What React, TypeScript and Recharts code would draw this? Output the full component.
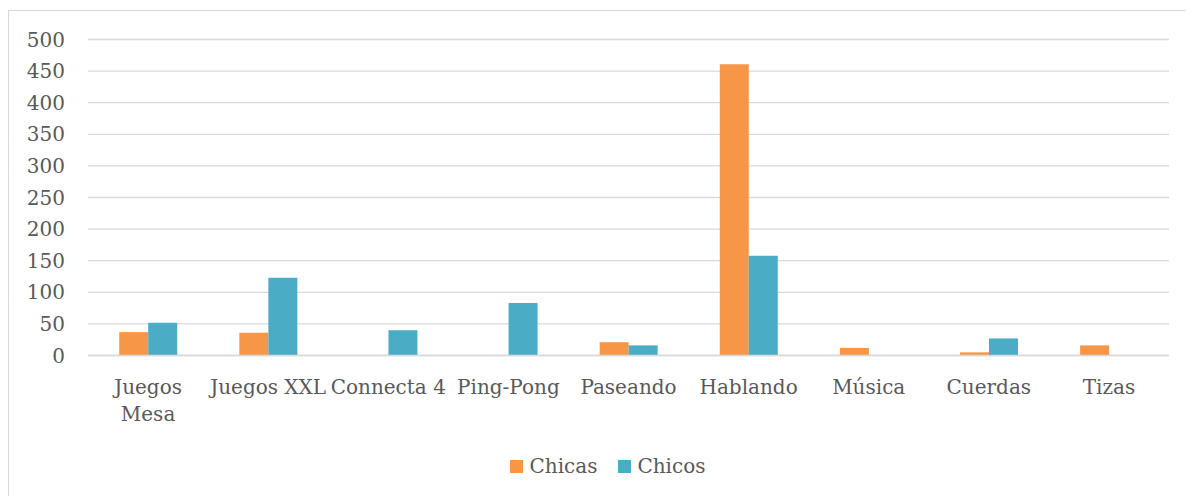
import React from 'react';
import { BarChart, Bar, XAxis, YAxis, CartesianGrid, Legend } from 'recharts';

const categories = ['Juegos\nMesa', 'Juegos XXL', 'Connecta 4', 'Ping-Pong', 'Paseando', 'Hablando', 'Música', 'Cuerdas', 'Tizas'];
const chicas = [37, 36, 0, 0, 21, 461, 12, 5, 16];
const chicos = [52, 123, 40, 83, 16, 158, 0, 27, 0];
const yTicks = [0, 50, 100, 150, 200, 250, 300, 350, 400, 450, 500];
const seriesNames = ['Chicas', 'Chicos'];
const seriesColors = ['#F79646', '#4BACC6'];

const data = categories.map((c, i) => ({ name: c, Chicas: chicas[i], Chicos: chicos[i] }));

const FONT = 'DejaVu Serif';
const FS = 20;
const TEXT_COLOR = '#595959';

const XTick = (props: any) => {
  const { x, y, payload } = props;
  const lines = String(payload.value).split('\n');
  return (
    <text x={x} y={y} textAnchor="middle" fontFamily={FONT} fontSize={FS} fill={TEXT_COLOR}>
      {lines.map((l, i) => (
        <tspan key={i} x={x} dy={i === 0 ? '0.75em' : 27}>
          {l}
        </tspan>
      ))}
    </text>
  );
};

const LegendContent = () => (
  <div style={{ display: 'flex', justifyContent: 'center', alignItems: 'center', fontFamily: FONT, fontSize: FS, color: TEXT_COLOR, height: 24 }}>
    {seriesNames.map((n, i) => (
      <div key={n} style={{ display: 'flex', alignItems: 'center', marginRight: i === 0 ? 21 : 0 }}>
        <span style={{ display: 'inline-block', width: 13, height: 13, background: seriesColors[i], marginRight: 6 }} />
        <span>{n}</span>
      </div>
    ))}
  </div>
);

export default function App() {
  return (
    <div style={{ marginTop: 2, border: '1px solid #d9d9d9', width: 1200, height: 500, position: 'relative', overflow: 'hidden', boxSizing: 'border-box' }}>
      <BarChart
        width={1180}
        height={480}
        data={data}
        margin={{ top: 28.5, right: 20, left: 0, bottom: 35.5 }}
        barCategoryGap="26%"
        barGap={0}
      >
        <CartesianGrid vertical={false} stroke="#d9d9d9" strokeWidth={1.3} />
        <XAxis
          dataKey="name"
          height={100}
          axisLine={{ stroke: '#d9d9d9', strokeWidth: 1.3 }}
          tickLine={false}
          tickSize={0}
          tickMargin={23}
          interval={0}
          tick={<XTick />}
        />
        <YAxis
          width={79}
          domain={[0, 500]}
          ticks={yTicks}
          axisLine={false}
          tickLine={false}
          tickSize={0}
          tickMargin={23}
          tick={{ fontFamily: FONT, fontSize: FS, fill: TEXT_COLOR }}
        />
        <Legend
          layout="horizontal"
          verticalAlign="middle"
          align="center"
          wrapperStyle={{ top: 443, left: 9, width: 1180 }}
          content={<LegendContent />}
        />
        <Bar dataKey="Chicas" fill={seriesColors[0]} isAnimationActive={false} />
        <Bar dataKey="Chicos" fill={seriesColors[1]} isAnimationActive={false} />
      </BarChart>
    </div>
  );
}
